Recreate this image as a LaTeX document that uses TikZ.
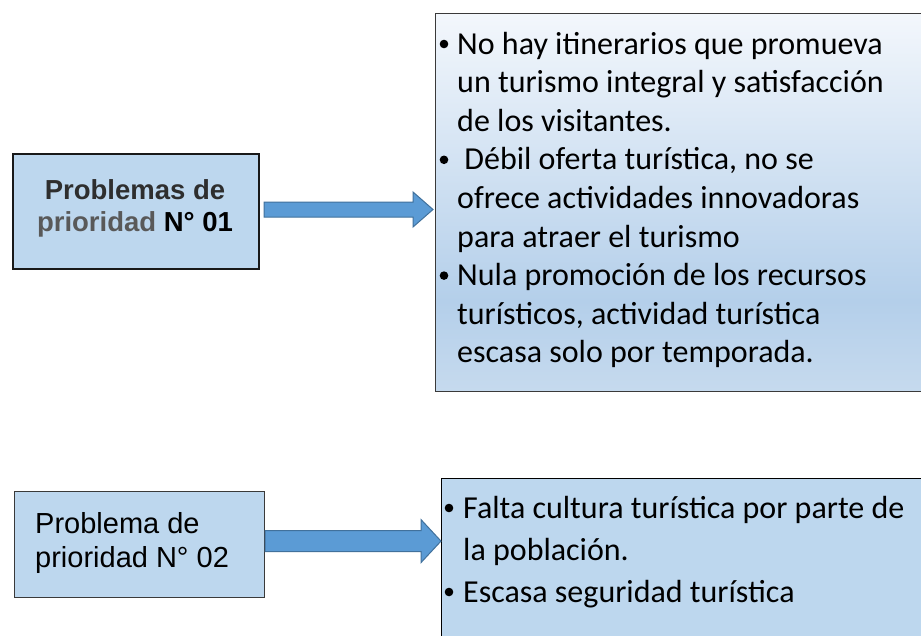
\documentclass[tikz,border=0pt]{standalone}
\usepackage{fontspec}
\setmainfont{Carlito}
\newfontfamily\arialfont{Liberation Sans}
\usetikzlibrary{calc}
\definecolor{boxblue}{HTML}{BDD7EE}
\definecolor{arrowfill}{HTML}{5B9BD5}
\definecolor{arrowline}{HTML}{41719C}
\definecolor{gtop}{HTML}{F3F7FC}
\definecolor{gmid}{HTML}{B4CFEA}
\definecolor{gbot}{HTML}{C6DAEE}
\definecolor{edgegray}{HTML}{3A3A3A}
\pgfdeclareverticalshading{bigshade}{100bp}{color(0bp)=(gbot); color(25bp)=(gbot); color(37bp)=(gmid); color(75bp)=(gtop); color(100bp)=(gtop)}
\tikzset{
  prio1box/.style={draw=black!90, line width=2pt, fill=boxblue, anchor=north west, inner sep=0},
  prio2box/.style={draw=edgegray, line width=1.2pt, fill=boxblue, anchor=north west, inner sep=0},
  listbox/.style={draw=edgegray, line width=1.4pt, anchor=north west, inner sep=0},
  blockarrow/.style={draw=arrowline, line width=1pt, fill=arrowfill, line join=miter},
  ptextbold/.style={font=\arialfont\bfseries\fontsize{27.5}{32}\selectfont, anchor=base, inner sep=0},
  ptext/.style={font=\arialfont\fontsize{29}{34}\selectfont, anchor=base west, inner sep=0},
  ltext/.style={font=\fontsize{32}{38}\selectfont, anchor=base west, inner sep=0},
  bulletdot/.style={fill=black}
}
\begin{document}
\begin{tikzpicture}[x=1pt,y=-1pt]
\useasboundingbox (0,0) rectangle (921,635);
\clip (0,0) rectangle (921,635);
\fill[white] (0,0) rectangle (921,635);

% ---- first problem ----
\node[prio1box, minimum width=246pt, minimum height=115pt] (p1) at (12,153) {};
\node[ptextbold, text=black!82] (p1a) at (135,199) {Problemas de};
\node[ptextbold] (p1b) at (135,231) {\textcolor{black!65}{prioridad} \textcolor{black}{N° 01}};

\node[listbox, shade, shading=bigshade, minimum width=500pt, minimum height=378pt] (l1) at (435,13) {};

\coordinate (a1s) at ($(p1.east)+(4pt,2pt)$);
\coordinate (a1e) at ($(l1.west |- a1s)+(-2pt,0)$);
\draw[blockarrow] ($(a1s)+(0,-7.5)$) -- ($(a1e)+(-20,-7.5)$) -- ($(a1e)+(-20,-17.5)$)
  -- (a1e) -- ($(a1e)+(-20,17.5)$) -- ($(a1e)+(-20,7.5)$) -- ($(a1s)+(0,7.5)$) -- cycle;

\fill[bulletdot] (444,44) circle (4.3pt);
\node[ltext] (t1) at (457,54) {No hay itinerarios que promueva};
\node[ltext] (t2) at (457,92.6) {un turismo integral y satisfacción};
\node[ltext] (t3) at (457,131.2) {de los visitantes.};
\fill[bulletdot] (444,159.8) circle (4.3pt);
\node[ltext] (t4) at (457,169.8) {\ Débil oferta turística, no se};
\node[ltext] (t5) at (457,208.4) {ofrece actividades innovadoras};
\node[ltext] (t6) at (457,247) {para atraer el turismo};
\fill[bulletdot] (444,275.6) circle (4.3pt);
\node[ltext] (t7) at (457,285.6) {Nula promoción de los recursos};
\node[ltext] (t8) at (457,324.2) {turísticos, actividad turística};
\node[ltext] (t9) at (457,362.8) {escasa solo por temporada.};

% ---- second problem ----
\node[prio2box, minimum width=250pt, minimum height=106pt] (p2) at (14,491) {};
\node[ptext] (p2a) at (35,533) {Problema de};
\node[ptext] (p2b) at (35,567) {prioridad N° 02};

\node[listbox, draw=black, line width=1.3pt, fill=boxblue, minimum width=495pt, minimum height=175pt] (l2) at (441,478) {};

\coordinate (a2s) at ($(p2.east)+(0,3.5pt)$);
\coordinate (a2e) at ($(l2.west |- a2s)$);
\draw[blockarrow] ($(a2s)+(0,-10.5)$) -- ($(a2e)+(-20,-10.5)$) -- ($(a2e)+(-20,-21.5)$)
  -- (a2e) -- ($(a2e)+(-20,21.5)$) -- ($(a2e)+(-20,10.5)$) -- ($(a2s)+(0,10.5)$) -- cycle;

\fill[bulletdot] (449,508) circle (4.3pt);
\node[ltext] (u1) at (463,518) {Falta cultura turística por parte de};
\node[ltext] (u2) at (463,560) {la población.};
\fill[bulletdot] (449,592) circle (4.3pt);
\node[ltext] (u3) at (463,602) {Escasa seguridad turística};
\end{tikzpicture}
\end{document}
